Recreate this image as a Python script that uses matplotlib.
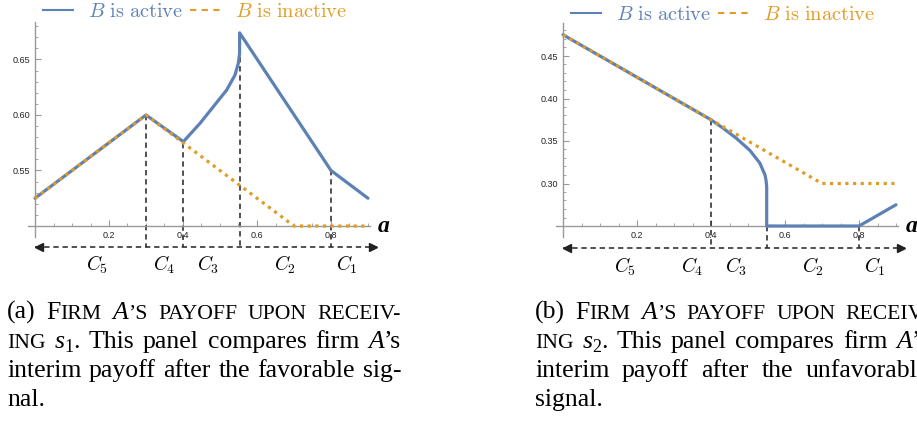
import numpy as np
import matplotlib.pyplot as plt
from matplotlib.lines import Line2D
from matplotlib.ticker import FixedLocator, FormatStrFormatter

BLUE = '#5E81B5'
ORANGE = '#E19C24'
SERIF = 'Liberation Serif'

# panel (a): payoff after the favorable signal s1
a_active_x = [0.0, 0.3, 0.401, 0.446, 0.482, 0.518, 0.5405, 0.5495, 0.553, 0.553, 0.8, 0.9]
a_active_y = [0.525, 0.6, 0.576, 0.5925, 0.6075, 0.6225, 0.636, 0.6466, 0.6556, 0.674, 0.55, 0.525]
a_inactive_x = [0.0, 0.3, 0.4, 0.7, 0.9]
a_inactive_y = [0.525, 0.6, 0.575, 0.5, 0.5]
a_cut_x = [0.3, 0.4, 0.553, 0.8]
a_cut_top = [0.6, 0.575, 0.652, 0.55]
a_yticks = [0.55, 0.60, 0.65]

# panel (b): payoff after the unfavorable signal s2
b_active_x = [0.0, 0.4, 0.433, 0.469, 0.505, 0.532, 0.546, 0.549, 0.5505, 0.5505, 0.8, 0.9]
b_active_y = [0.475, 0.375, 0.365, 0.353, 0.339, 0.324, 0.31, 0.303, 0.296, 0.25, 0.25, 0.275]
b_inactive_x = [0.0, 0.4, 0.7, 0.9]
b_inactive_y = [0.475, 0.375, 0.3, 0.3]
b_cut_x = [0.4, 0.5505, 0.8]
b_cut_top = [0.375, 0.25, 0.25]
b_yticks = [0.30, 0.35, 0.40, 0.45]

xticks = [0.2, 0.4, 0.6, 0.8]
region_labels = ['$C_5$', '$C_4$', '$C_3$', '$C_2$', '$C_1$']
region_x = [0.167, 0.348, 0.469, 0.675, 0.843]

W, H = 917, 421
fig = plt.figure(figsize=(W / 100, H / 100), dpi=100)


def panel(rect, act_x, act_y, ina_x, ina_y, cut_x, cut_top, base, ytop,
          yticks, ylim, arrow_y, label_y, leg_y):
    ax = fig.add_axes(rect)
    ax.set_xlim(-0.05, 0.97)
    ax.set_ylim(*ylim)
    ax.patch.set_alpha(0)
    for s in ['top', 'right']:
        ax.spines[s].set_visible(False)
    ax.spines['left'].set_position(('data', 0))
    ax.spines['bottom'].set_position(('data', base))
    ax.spines['left'].set_bounds(base - 0.054 * (ytop - base), ytop)
    ax.spines['bottom'].set_bounds(-0.02, 0.905)
    for s in ['left', 'bottom']:
        ax.spines[s].set_color('#999999')
        ax.spines[s].set_linewidth(1.0)

    ax.xaxis.set_major_locator(FixedLocator(xticks))
    ax.xaxis.set_minor_locator(FixedLocator(np.arange(0.05, 0.91, 0.05)))
    ax.xaxis.set_major_formatter(FormatStrFormatter('%.1f'))
    ax.yaxis.set_major_locator(FixedLocator(yticks))
    ax.yaxis.set_minor_locator(FixedLocator(np.arange(base + 0.01, ytop, 0.01)))
    ax.yaxis.set_major_formatter(FormatStrFormatter('%.2f'))
    ax.tick_params(which='both', direction='in', color='#999999', labelsize=6.5,
                   labelcolor='#222222', pad=3.5)
    ax.tick_params(which='major', length=4, width=0.8)
    ax.tick_params(which='minor', length=2.2, width=0.6)
    for lab in ax.get_xticklabels() + ax.get_yticklabels():
        lab.set_family('Liberation Sans')

    ax.plot(act_x, act_y, color=BLUE, lw=2.3, solid_joinstyle='round',
            solid_capstyle='round', zorder=3)
    ax.plot(ina_x, ina_y, color=ORANGE, lw=2.3, ls=(0, (1.0, 1.4)), zorder=4)

    for cx, ct in zip(cut_x, cut_top):
        ax.plot([cx, cx], [ct, arrow_y], color='#222222', lw=1.1,
                ls=(0, (3.5, 2.5)), zorder=2)

    ax.plot([0.0, 0.925], [arrow_y, arrow_y], color='#222222', lw=1.1,
            ls=(0, (3.5, 2.5)), zorder=2)
    ax.plot([0.012], [arrow_y], marker='<', color='#222222', ms=6, zorder=2)
    ax.plot([0.913], [arrow_y], marker='>', color='#222222', ms=6, zorder=2)

    for lab, lx in zip(region_labels, region_x):
        ax.text(lx, label_y, lab, ha='center', va='center', fontsize=14,
                math_fontfamily='cm')

    ax.text(0.925, base, 'a', fontsize=17, family=SERIF, weight='bold',
            style='italic', va='center', ha='left')

    handles = [Line2D([], [], color=BLUE, lw=1.5),
               Line2D([], [], color=ORANGE, lw=1.5, ls=(0, (3.0, 2.6)))]
    leg = ax.legend(handles, [r'$B\ \mathrm{is\ active}$', r'$B\ \mathrm{is\ inactive}$'],
                    ncol=2, frameon=False, loc='center left',
                    bbox_to_anchor=(0.022, leg_y), bbox_transform=ax.transData,
                    borderpad=0, borderaxespad=0, fontsize=14.7, handlelength=1.46,
                    handletextpad=0.72, columnspacing=0.36, labelcolor='linecolor')
    for t in leg.get_texts():
        t.set_math_fontfamily('cm')
    return ax


panel([16.5 / W, (H - 281.5) / H, 377.4 / W, 277.5 / H],
      a_active_x, a_active_y, a_inactive_x, a_inactive_y, a_cut_x, a_cut_top,
      0.5, 0.684, a_yticks, (0.45, 0.70), 0.481, 0.465, 0.693)
panel([544.5 / W, (H - 285.5) / H, 377.4 / W, 280.5 / H],
      b_active_x, b_active_y, b_inactive_x, b_inactive_y, b_cut_x, b_cut_top,
      0.25, 0.489, b_yticks, (0.18, 0.51), 0.224, 0.202, 0.499)

# captions
FS = 18.5
SC = 0.84
LEAD = 29
renderer = fig.canvas.get_renderer()


def caption(x0, base0, lines, width):
    px = FS * fig.dpi / 72
    for i, (words, justify) in enumerate(lines):
        yb = base0 + i * LEAD
        arts, widths = [], []
        for word in words:
            parts, w = [], 0
            for txt, kind in word:
                size = FS * {'sc': SC, 'sub': 0.7}.get(kind, 1)
                t = fig.text(0, 0, txt, fontsize=size, family=SERIF,
                             style='italic' if kind == 'it' else 'normal',
                             va='baseline', ha='left')
                parts.append((t, w, kind))
                w += t.get_window_extent(renderer).width
            arts.append(parts)
            widths.append(w)
        gap = 0.25 * px
        if justify and len(words) > 1:
            gap = (width - sum(widths)) / (len(words) - 1)
        x = x0
        for parts, w in zip(arts, widths):
            for t, off, kind in parts:
                dy = 0.17 * px if kind == 'sub' else 0
                t.set_position(((x + off) / W, (H - yb - dy) / H))
            x += w + gap


def words(s):
    return [[(w, 'rm')] for w in s.split()]


cap_a = [
    ([[('(a)', 'rm')], [('F', 'rm'), ('IRM', 'sc')], [('A', 'it'), ('\u2019S', 'sc')],
      [('PAYOFF', 'sc')], [('UPON', 'sc')], [('RECEIV-', 'sc')]], True),
    ([[('ING', 'sc')], [('s', 'it'), ('1', 'sub'), ('.', 'rm')]] + words('This panel compares firm')
     + [[('A', 'it'), ('\u2019s', 'rm')]], True),
    (words('interim payoff after the favorable sig-'), True),
    (words('nal.'), False),
]
cap_b = [
    ([[('(b)', 'rm')], [('F', 'rm'), ('IRM', 'sc')], [('A', 'it'), ('\u2019S', 'sc')],
      [('PAYOFF', 'sc')], [('UPON', 'sc')], [('RECEIV-', 'sc')]], True),
    ([[('ING', 'sc')], [('s', 'it'), ('2', 'sub'), ('.', 'rm')]] + words('This panel compares firm')
     + [[('A', 'it'), ('\u2019s', 'rm')]], True),
    (words('interim payoff after the unfavorable'), True),
    (words('signal.'), False),
]
caption(7, 319, cap_a, 394)
caption(535, 319, cap_b, 394)

fig.savefig('out.png', dpi=100)
